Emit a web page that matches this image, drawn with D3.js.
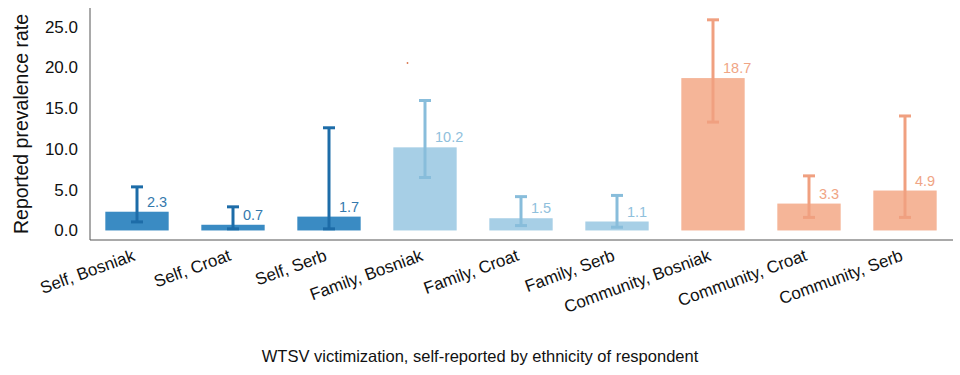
<!DOCTYPE html>
<html>
<head>
<meta charset="utf-8">
<script src="https://cdn.jsdelivr.net/npm/d3@7"></script>
<style>
  body { margin: 0; background: #fff; }
  text { font-family: "Liberation Sans", Arial, Helvetica, sans-serif; }
</style>
</head>
<body>
<script>
// data
var categories = ["Self, Bosniak", "Self, Croat", "Self, Serb",
                  "Family, Bosniak", "Family, Croat", "Family, Serb",
                  "Community, Bosniak", "Community, Croat", "Community, Serb"];
var groups = ["Self", "Self", "Self", "Family", "Family", "Family", "Community", "Community", "Community"];
var values = [2.3, 0.7, 1.7, 10.2, 1.5, 1.1, 18.7, 3.3, 4.9];
var errLow = [1.05, 0.2, 0.2, 6.5, 0.6, 0.4, 13.3, 1.6, 1.6];
var errHigh = [5.35, 2.9, 12.6, 15.95, 4.15, 4.3, 25.85, 6.7, 14.05];
var yTicks = [0, 5, 10, 15, 20, 25];

var fillColor = {Self: "#3a8bc3", Family: "#a7cfe6", Community: "#f5b598"};
var errColor = {Self: "#1d6ca8", Family: "#88bddb", Community: "#f0a080"};
var labelColor = {Self: "#3479ad", Family: "#8fc0dc", Community: "#f0a585"};

var svg = d3.select("body")
    .append("svg")
    .attr("width", 960)
    .attr("height", 375)
    .style("display", "block");

var margin = {top: 8, right: 7, bottom: 135, left: 90};
var width = 960 - margin.left - margin.right;
var height = 375 - margin.top - margin.bottom;

var g = svg.append("g").attr("transform", "translate(" + margin.left + "," + margin.top + ")");

var x = d3.scaleBand()
    .domain(categories)
    .range([-1, width])
    .paddingInner(0.34)
    .paddingOuter(0.17);

var y = d3.scaleLinear()
    .domain([-1.17, 27.3])
    .range([height, 0]);

// axes (spines only)
g.append("line")
    .attr("x1", 0).attr("x2", 0)
    .attr("y1", 0).attr("y2", height)
    .attr("stroke", "#555").attr("stroke-width", 1);
g.append("line")
    .attr("x1", 0).attr("x2", width)
    .attr("y1", height).attr("y2", height)
    .attr("stroke", "#555").attr("stroke-width", 1);

var yAxis = g.append("g")
    .call(d3.axisLeft(y).tickValues(yTicks).tickFormat(d3.format(".1f")).tickSize(0).tickPadding(12));
yAxis.select(".domain").remove();
yAxis.selectAll("text")
    .style("font-size", "17px")
    .style("font-family", "'Liberation Sans', Arial, sans-serif")
    .attr("fill", "#111");

// bars
g.selectAll(".bar")
    .data(values)
    .enter()
    .append("rect")
    .attr("class", "bar")
    .attr("x", function (d, i) { return x(categories[i]); })
    .attr("width", x.bandwidth())
    .attr("y", function (d) { return y(d); })
    .attr("height", function (d) { return y(0) - y(d); })
    .attr("fill", function (d, i) { return fillColor[groups[i]]; });

// error bars
var cap = 6;
values.forEach(function (v, i) {
    var cx = x(categories[i]) + x.bandwidth() / 2;
    var c = errColor[groups[i]];
    g.append("line")
        .attr("x1", cx).attr("x2", cx)
        .attr("y1", y(errLow[i])).attr("y2", y(errHigh[i]))
        .attr("stroke", c).attr("stroke-width", 3);
    [errLow[i], errHigh[i]].forEach(function (e) {
        g.append("line")
            .attr("x1", cx - cap).attr("x2", cx + cap)
            .attr("y1", y(e)).attr("y2", y(e))
            .attr("stroke", c).attr("stroke-width", 3);
    });
});

// value labels
g.selectAll(".val")
    .data(values)
    .enter()
    .append("text")
    .attr("class", "val")
    .attr("x", function (d, i) { return x(categories[i]) + x.bandwidth() / 2 + 10; })
    .attr("y", function (d) { return y(d) - 5; })
    .attr("fill", function (d, i) { return labelColor[groups[i]]; })
    .style("font-size", "14.5px")
    .text(function (d) { return d.toFixed(1); });

// x tick labels
g.selectAll(".xlab")
    .data(categories)
    .enter()
    .append("text")
    .attr("class", "xlab")
    .attr("transform", function (d) {
        return "translate(" + (x(d) + x.bandwidth() / 2 - 1) + "," + (height + 20) + ") rotate(-20)";
    })
    .attr("text-anchor", "end")
    .attr("fill", "#111")
    .style("font-size", "17px")
    .text(function (d) { return d; });

// stray dot
svg.append("circle")
    .attr("cx", 407.5).attr("cy", 63)
    .attr("r", 0.9)
    .attr("fill", "#d9774f");

// axis titles
svg.append("text")
    .attr("transform", "translate(28,124) rotate(-90)")
    .attr("text-anchor", "middle")
    .attr("fill", "#111")
    .style("font-size", "19.5px")
    .text("Reported prevalence rate");

svg.append("text")
    .attr("x", 480)
    .attr("y", 362)
    .attr("text-anchor", "middle")
    .attr("fill", "#111")
    .style("font-size", "16.5px")
    .text("WTSV victimization, self-reported by ethnicity of respondent");
</script>
</body>
</html>
